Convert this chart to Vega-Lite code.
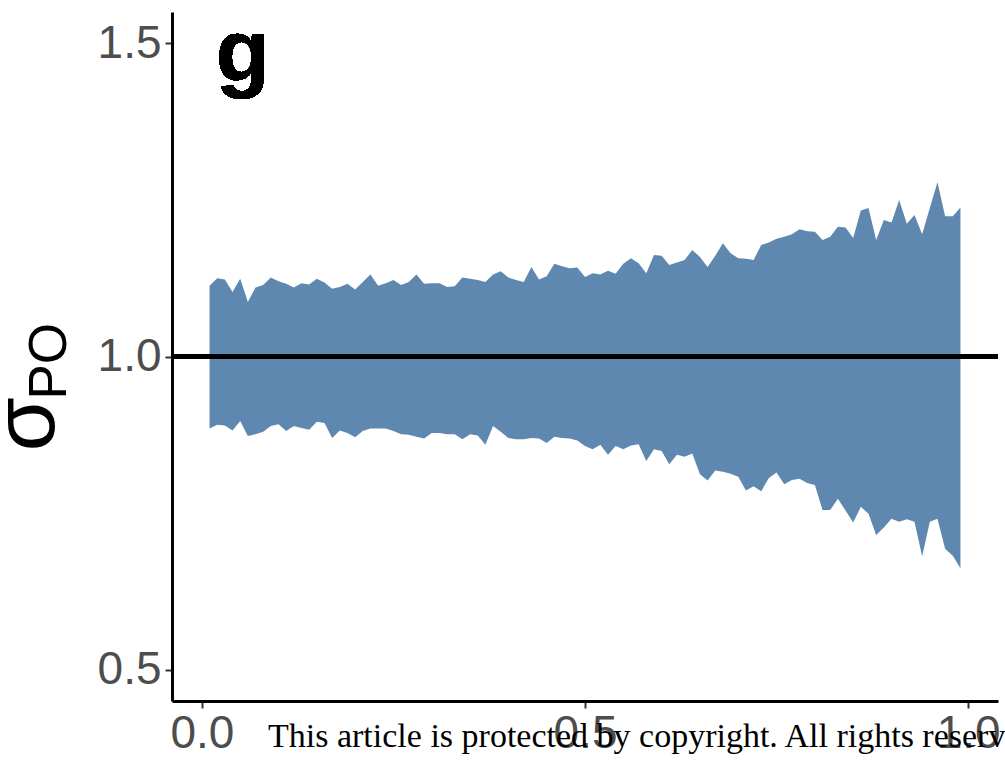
{
  "$schema": "https://vega.github.io/schema/vega-lite/v6.json",
  "width": 826,
  "height": 689,
  "autosize": "none",
  "padding": {"left": 172, "top": 12, "right": 7, "bottom": 60},
  "background": "white",
  "config": {
    "view": {"stroke": null},
    "axis": {
      "grid": false,
      "labelFont": "Liberation Sans",
      "labelFontSize": 46,
      "labelColor": "#4D4D4D",
      "tickColor": "#333333",
      "tickWidth": 2,
      "tickSize": 7,
      "domainColor": "black",
      "domainWidth": 3,
      "labelPadding": 4,
      "titleFont": "Liberation Sans",
      "titleFontWeight": "normal",
      "titleColor": "black"
    }
  },
  "title": {
    "text": "This article is protected by copyright. All rights reserved.",
    "orient": "bottom",
    "anchor": "start",
    "frame": "group",
    "offset": -9,
    "dx": 96,
    "font": "Liberation Serif",
    "fontSize": 34,
    "fontWeight": "normal",
    "color": "black",
    "baseline": "alphabetic"
  },
  "data": {
    "values": [
      {"x": 0.01, "lo": 0.885, "hi": 1.113}, {"x": 0.02, "lo": 0.891, "hi": 1.125}, {"x": 0.03, "lo": 0.890, "hi": 1.123},
      {"x": 0.04, "lo": 0.882, "hi": 1.103}, {"x": 0.05, "lo": 0.897, "hi": 1.124}, {"x": 0.06, "lo": 0.873, "hi": 1.087},
      {"x": 0.07, "lo": 0.876, "hi": 1.110}, {"x": 0.08, "lo": 0.880, "hi": 1.114}, {"x": 0.09, "lo": 0.889, "hi": 1.126},
      {"x": 0.10, "lo": 0.892, "hi": 1.120}, {"x": 0.11, "lo": 0.881, "hi": 1.116}, {"x": 0.12, "lo": 0.889, "hi": 1.110},
      {"x": 0.13, "lo": 0.886, "hi": 1.117}, {"x": 0.14, "lo": 0.883, "hi": 1.115}, {"x": 0.15, "lo": 0.896, "hi": 1.124},
      {"x": 0.16, "lo": 0.894, "hi": 1.118}, {"x": 0.17, "lo": 0.870, "hi": 1.108}, {"x": 0.18, "lo": 0.882, "hi": 1.111},
      {"x": 0.19, "lo": 0.878, "hi": 1.116}, {"x": 0.20, "lo": 0.871, "hi": 1.107}, {"x": 0.21, "lo": 0.881, "hi": 1.119},
      {"x": 0.22, "lo": 0.885, "hi": 1.131}, {"x": 0.23, "lo": 0.885, "hi": 1.113}, {"x": 0.24, "lo": 0.885, "hi": 1.117},
      {"x": 0.25, "lo": 0.881, "hi": 1.122}, {"x": 0.26, "lo": 0.876, "hi": 1.114}, {"x": 0.27, "lo": 0.875, "hi": 1.119},
      {"x": 0.28, "lo": 0.872, "hi": 1.131}, {"x": 0.29, "lo": 0.869, "hi": 1.116}, {"x": 0.30, "lo": 0.878, "hi": 1.117},
      {"x": 0.31, "lo": 0.878, "hi": 1.117}, {"x": 0.32, "lo": 0.876, "hi": 1.111}, {"x": 0.33, "lo": 0.876, "hi": 1.112},
      {"x": 0.34, "lo": 0.868, "hi": 1.126}, {"x": 0.35, "lo": 0.876, "hi": 1.124}, {"x": 0.36, "lo": 0.874, "hi": 1.122},
      {"x": 0.37, "lo": 0.859, "hi": 1.119}, {"x": 0.38, "lo": 0.889, "hi": 1.131}, {"x": 0.39, "lo": 0.880, "hi": 1.136},
      {"x": 0.40, "lo": 0.870, "hi": 1.126}, {"x": 0.41, "lo": 0.868, "hi": 1.122}, {"x": 0.42, "lo": 0.868, "hi": 1.119},
      {"x": 0.43, "lo": 0.870, "hi": 1.143}, {"x": 0.44, "lo": 0.869, "hi": 1.123}, {"x": 0.45, "lo": 0.862, "hi": 1.128},
      {"x": 0.46, "lo": 0.872, "hi": 1.148}, {"x": 0.47, "lo": 0.870, "hi": 1.144}, {"x": 0.48, "lo": 0.869, "hi": 1.141},
      {"x": 0.49, "lo": 0.866, "hi": 1.142}, {"x": 0.50, "lo": 0.857, "hi": 1.127}, {"x": 0.51, "lo": 0.852, "hi": 1.133},
      {"x": 0.52, "lo": 0.859, "hi": 1.131}, {"x": 0.53, "lo": 0.843, "hi": 1.137}, {"x": 0.54, "lo": 0.857, "hi": 1.132},
      {"x": 0.55, "lo": 0.852, "hi": 1.148}, {"x": 0.56, "lo": 0.858, "hi": 1.157}, {"x": 0.57, "lo": 0.860, "hi": 1.149},
      {"x": 0.58, "lo": 0.833, "hi": 1.133}, {"x": 0.59, "lo": 0.852, "hi": 1.162}, {"x": 0.60, "lo": 0.849, "hi": 1.161},
      {"x": 0.61, "lo": 0.828, "hi": 1.146}, {"x": 0.62, "lo": 0.843, "hi": 1.150}, {"x": 0.63, "lo": 0.840, "hi": 1.154},
      {"x": 0.64, "lo": 0.845, "hi": 1.170}, {"x": 0.65, "lo": 0.812, "hi": 1.159}, {"x": 0.66, "lo": 0.802, "hi": 1.143},
      {"x": 0.67, "lo": 0.818, "hi": 1.161}, {"x": 0.68, "lo": 0.816, "hi": 1.181}, {"x": 0.69, "lo": 0.813, "hi": 1.165},
      {"x": 0.70, "lo": 0.808, "hi": 1.157}, {"x": 0.71, "lo": 0.786, "hi": 1.156}, {"x": 0.72, "lo": 0.793, "hi": 1.154},
      {"x": 0.73, "lo": 0.785, "hi": 1.178}, {"x": 0.74, "lo": 0.806, "hi": 1.182}, {"x": 0.75, "lo": 0.815, "hi": 1.188},
      {"x": 0.76, "lo": 0.796, "hi": 1.191}, {"x": 0.77, "lo": 0.803, "hi": 1.195}, {"x": 0.78, "lo": 0.805, "hi": 1.203},
      {"x": 0.79, "lo": 0.798, "hi": 1.200}, {"x": 0.80, "lo": 0.795, "hi": 1.199}, {"x": 0.81, "lo": 0.755, "hi": 1.186},
      {"x": 0.82, "lo": 0.755, "hi": 1.191}, {"x": 0.83, "lo": 0.773, "hi": 1.207}, {"x": 0.84, "lo": 0.754, "hi": 1.206},
      {"x": 0.85, "lo": 0.735, "hi": 1.189}, {"x": 0.86, "lo": 0.760, "hi": 1.233}, {"x": 0.87, "lo": 0.749, "hi": 1.237},
      {"x": 0.88, "lo": 0.715, "hi": 1.186}, {"x": 0.89, "lo": 0.727, "hi": 1.218}, {"x": 0.90, "lo": 0.741, "hi": 1.214},
      {"x": 0.91, "lo": 0.736, "hi": 1.250}, {"x": 0.92, "lo": 0.740, "hi": 1.212}, {"x": 0.93, "lo": 0.736, "hi": 1.226},
      {"x": 0.94, "lo": 0.681, "hi": 1.195}, {"x": 0.95, "lo": 0.736, "hi": 1.237}, {"x": 0.96, "lo": 0.741, "hi": 1.278},
      {"x": 0.97, "lo": 0.693, "hi": 1.224}, {"x": 0.98, "lo": 0.682, "hi": 1.224}, {"x": 0.99, "lo": 0.662, "hi": 1.238}
    ]
  },
  "resolve": {"axis": {"y": "independent"}},
  "layer": [
    {
      "mark": {"type": "area", "color": "#5E88B0", "opacity": 1},
      "encoding": {
        "x": {
          "field": "x",
          "type": "quantitative",
          "scale": {"domain": [-0.039, 1.039], "nice": false, "zero": false},
          "axis": {"values": [0, 0.5, 1.0], "format": ".1f", "title": null, "labelPadding": 3}
        },
        "y": {
          "field": "hi",
          "type": "quantitative",
          "scale": {"domain": [0.45, 1.55], "nice": false, "zero": false},
          "axis": {
            "orient": "left",
            "values": [0.5, 1.0, 1.5],
            "format": ".1f",
            "title": "σ",
            "titleFontSize": 88,
            "titleAngle": 270,
            "titleAlign": "left",
            "titleBaseline": "alphabetic",
            "titleX": -119,
            "titleY": 439
          }
        },
        "y2": {"field": "lo"}
      }
    },
    {
      "mark": {"type": "rule", "color": "black", "strokeWidth": 5},
      "encoding": {
        "y": {
          "datum": 1.0,
          "type": "quantitative",
          "axis": {
            "orient": "left",
            "title": "PO",
            "labels": false,
            "ticks": false,
            "domain": false,
            "titleFontSize": 53,
            "titleAngle": 270,
            "titleAlign": "left",
            "titleBaseline": "alphabetic",
            "titleX": -107,
            "titleY": 387
          }
        }
      }
    },
    {
      "mark": {
        "type": "text",
        "text": "g",
        "font": "Liberation Sans",
        "fontSize": 88,
        "fontWeight": "bold",
        "align": "left",
        "baseline": "alphabetic",
        "color": "black"
      },
      "encoding": {
        "x": {"datum": 0.018, "type": "quantitative"},
        "y": {"datum": 1.44, "type": "quantitative", "axis": null}
      }
    }
  ]
}
